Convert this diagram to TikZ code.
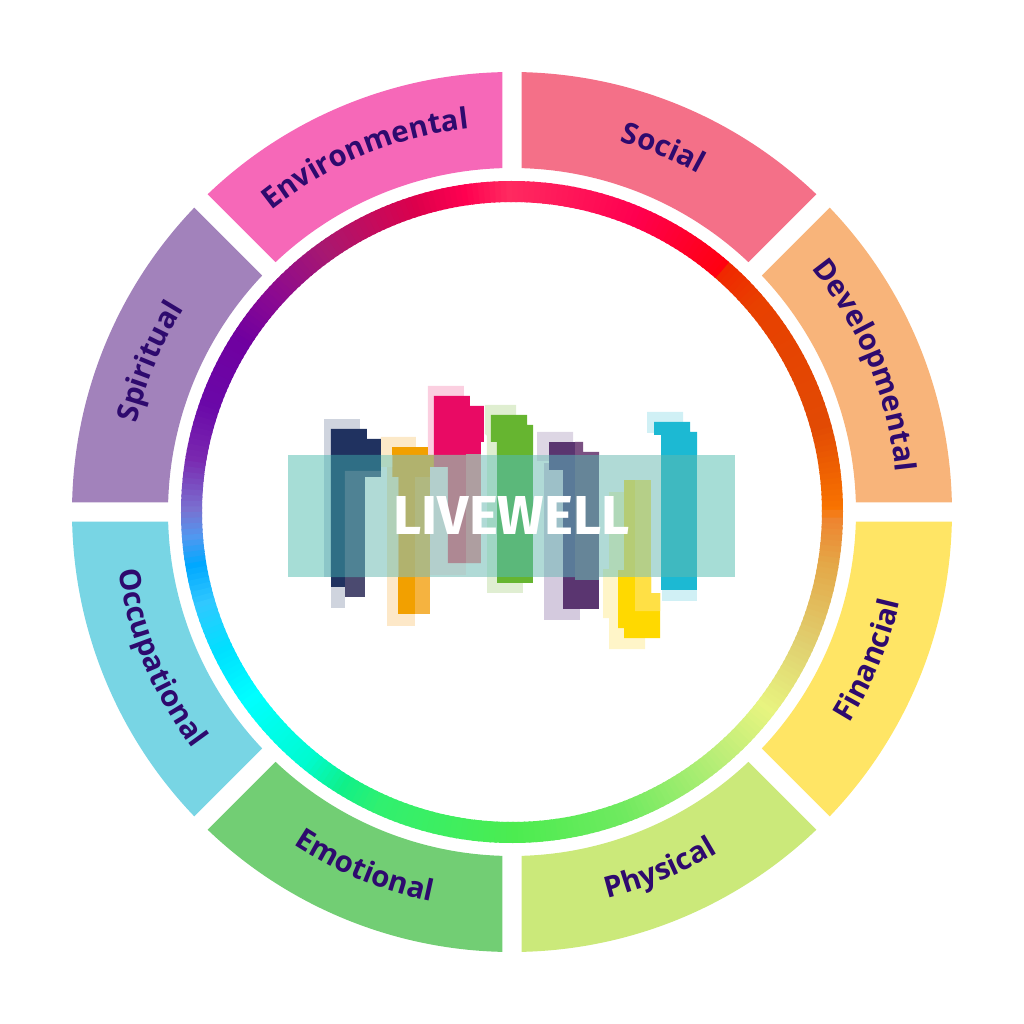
\documentclass[tikz,border=0pt]{standalone}
\usepackage{fontspec}
\usetikzlibrary{decorations.text}
\newfontfamily\wheelfont[Ligatures=TeX]{Open Sans}
\newfontfamily\logofont{Fira Sans}

\definecolor{labelink}{HTML}{2E0A6E}
\definecolor{social}{HTML}{F47088}
\definecolor{developmental}{HTML}{F8B47A}
\definecolor{financial}{HTML}{FFE565}
\definecolor{physical}{HTML}{CBE97A}
\definecolor{emotional}{HTML}{72CE74}
\definecolor{occupational}{HTML}{78D5E4}
\definecolor{spiritual}{HTML}{A282BB}
\definecolor{environmental}{HTML}{F668B8}

% one block of the logo: colour, then its path
\newcommand{\logopart}[2]{\definecolor{partc}{HTML}{#1}\fill[partc] #2;}

\begin{document}
\begin{tikzpicture}[x=0.01cm,y=0.01cm,
	wheellabel/.style={decorate,decoration={text along path,text align=center,
		text={|\wheelfont\bfseries\fontsize{8.35pt}{10pt}\selectfont\color{labelink}|#1}}}]
	\useasboundingbox (-512,-512) rectangle (512,512);

	% outer blocks
	\foreach \c/\col in {67.5/social,22.5/developmental,-22.5/financial,-67.5/physical,
			-112.5/emotional,-157.5/occupational,157.5/spiritual,112.5/environmental}
		\fill[\col] (\c-21.26:440) arc (\c-21.26:\c+21.26:440) -- (\c+20.91:344) arc (\c+20.91:\c-20.91:344) -- cycle;

	% labels, the upper four run clockwise, the lower four the other way
	\path[wheellabel=Social] (107.5:386) arc (107.5:27.5:386);
	\path[wheellabel=Developmental] (62.5:386) arc (62.5:-17.5:386);
	\path[wheellabel=Spiritual] (197.5:386) arc (197.5:117.5:386);
	\path[wheellabel=Environmental] (152.5:386) arc (152.5:72.5:386);
	\path[wheellabel=Financial] (-62.5:398) arc (-62.5:17.5:398);
	\path[wheellabel=Physical] (-107.5:398) arc (-107.5:-27.5:398);
	\path[wheellabel=Emotional] (-152.5:398) arc (-152.5:-72.5:398);
	\path[wheellabel=Occupational] (162.5:398) arc (162.5:242.5:398);

	% colour ring
	\foreach \a/\b/\ca/\cb in {0/15/F97400/E24A04,15/40/E24A04/E84000,40/48/E84000/F02800,48/49/F02800/FF0010,
			49/67/FF0010/FF0050,67/90/FF0050/FF2A60,90/98/FF2A60/FF0050,98/107/FF0050/DC004C,
			107/125/DC004C/A81870,125/137/A81870/8C0A90,137/147/8C0A90/7000A0,147/160/7000A0/6A08A8,
			160/170/6A08A8/7A28B0,170/179/7A28B0/7A70D0,179/184/7A70D0/5098F0,184/189/5098F0/00A8FF,
			189/196/00A8FF/30C8FF,196/205/30C8FF/00E0FF,205/215/00E0FF/00FFFF,215/230/00FFFF/00FBD0,
			230/238/00FBD0/10F088,238/245/10F088/30F070,245/270/30F070/4CEC50,270/290/4CEC50/70EA60,
			290/310/70EA60/BCEE78,310/322/BCEE78/E8F480,322/335/E8F480/E0D070,335/350/E0D070/E4A848,
			350/358/E4A848/EE8530,358/360/EE8530/F97400}{
		\definecolor{ringa}{HTML}{\ca}
		\definecolor{ringb}{HTML}{\cb}
		\pgfmathtruncatemacro{\e}{\b-1}
		\foreach \t in {\a,...,\e}{
			\pgfmathsetmacro{\p}{100*(\b-\t)/(\b-\a)}
			\draw[line width=0.21cm,ringa!\p!ringb] (\t:320.5) arc (\t:\t+1.4:320.5);
		}
	}

	% logo, in picture pixels with y going down
	\begin{scope}[x=0.01cm,y=-0.01cm,shift={(-512,-512)}]
		% pale shadows and solid tops and feet
		\logopart{CFD4DE}{(324,419) -| (360,455) -| cycle}
		\logopart{CFD4DE}{(331,587) rectangle (345,608)}
		\logopart{FCE9C8}{(381,437) -- (416,437) -- (416,447) -- (392,447) -- (392,455) -- (381,455) -- cycle}
		\logopart{FDE8C8}{(387,577) rectangle (415,626)}
		\logopart{FBCFE0}{(428,386) -- (464,386) -- (464,396) -- (434,396) -- (434,455) -- (428,455) -- cycle}
		\logopart{DFEED0}{(485,405) -- (516,405) -- (516,415) -- (491,415) -- (491,442) -- (497,442) -- (497,455) -- (487,455) -- (487,436) -- (485,434) -- cycle}
		\logopart{E0EED2}{(487,577) rectangle (523,593)}
		\logopart{DDD6E4}{(537,432) -- (573,432) -- (573,442) -- (549,442) -- (549,455) -- (537,455) -- cycle}
		\logopart{D4CADE}{(544,577) rectangle (580,620)}
		\logopart{FFF5C8}{(603,569) -- (618,569) -- (618,628) -- (624,628) -- (624,638) -- (645,638) -- (645,649) -- (609,649) -- (609,618) -- (603,618) -- cycle}
		\logopart{D0F0F5}{(647,412) -- (683,412) -- (683,422) -- (654,422) -- (654,433) -- (647,433) -- cycle}
		\logopart{D0F0F5}{(662,590) rectangle (697,601)}

		\logopart{203260}{(331,429) -- (367,429) -- (367,439) -- (381,439) -- (381,455) -- (331,455) -- cycle}
		\logopart{203260}{(331,577) rectangle (345,587)}
		\logopart{4B4A70}{(345,577) rectangle (365,597)}
		\logopart{F2A000}{(392,447) rectangle (428,455)}
		\logopart{F2A000}{(398.3,577) rectangle (415.3,614)}
		\logopart{F5B340}{(415.3,577) rectangle (430,614)}
		\logopart{E90A64}{(434,396) -- (470,396) -- (470,406) -- (484,406) -- (484,442) -- (481,442) -- (481,455) -- (434,455) -- cycle}
		\logopart{66B530}{(491,415) -- (527,415) -- (527,425) -- (533,425) -- (533,455) -- (497,455) -- (497,442) -- (491,442) -- cycle}
		\logopart{66B530}{(497,577) rectangle (533,583)}
		\logopart{5A3570}{(549,442) rectangle (575,455)}
		\logopart{7A5082}{(575,442) -- (583,442) -- (583,452) -- (599,452) -- (599,455) -- (575,455) -- cycle}
		\logopart{5A3570}{(563,577) rectangle (599,609)}
		\logopart{FFD900}{(618,577) -- (651,577) -- (651,593) -- (660,593) -- (660,638) -- (624,638) -- (624,628) -- (618,628) -- cycle}
		\logopart{FFE045}{(635,577) -- (651,577) -- (651,593) -- (660,593) -- (660,611) -- (635,611) -- cycle}
		\logopart{1CB9D3}{(654,422) -- (690,422) -- (690,432) -- (697,432) -- (697,455) -- (661,455) -- (661,435) -- (654,435) -- cycle}
		\logopart{1CB9D3}{(661,577) rectangle (697,590)}

		% the band and what shows through it
		\logopart{A6DDD6}{(288,455) rectangle (735,577)}
		\logopart{B0DAD6}{(365,477) rectangle (661,577)}
		\logopart{B0DAD6}{(381,455) rectangle (661,477)}
		\logopart{8CC6C8}{(324,455) rectangle (331,577)}
		\logopart{2F6E85}{(331,455) -- (381,455) -- (381,471) -- (345,471) -- (345,577) -- (331,577) -- cycle}
		\logopart{4F8294}{(345,471) -- (381,471) -- (381,477) -- (365,477) -- (365,577) -- (345,577) -- cycle}
		\logopart{B0D6C0}{(381,455) rectangle (392,467)}
		\logopart{B0D0B8}{(387,467) rectangle (398.3,577)}
		\logopart{B1B26E}{(392.3,455) -- (434,455) -- (434,467) -- (430,467) -- (430,477) -- (415.3,477) -- (415.3,577) -- (398.3,577) -- (398.3,477) -- (392.3,477) -- cycle}
		\logopart{B0B880}{(415.3,477) rectangle (430,577)}
		\logopart{B3CFCC}{(430,467) rectangle (466,575)}
		\logopart{AE8893}{(434,455) -- (481,455) -- (481,563) -- (448,563) -- (448,467) -- (434,467) -- cycle}
		\logopart{AE9EA0}{(466,454) rectangle (481,563)}
		\logopart{A0D6C4}{(487,455) rectangle (497,577)}
		\logopart{5BB87A}{(497,455) rectangle (533,577)}
		\logopart{A4C9CC}{(537,455) rectangle (549,461)}
		\logopart{9DC0C8}{(544,463) rectangle (563,577)}
		\logopart{5A7A98}{(549,455) -- (575,455) -- (575,577) -- (563,577) -- (563,470) -- (549,470) -- cycle}
		\logopart{668598}{(575,455) rectangle (599,580)}
		\logopart{B0D8B8}{(609,492) rectangle (624,577)}
		\logopart{B0D8B8}{(603,569) rectangle (618,577)}
		\logopart{B5CC75}{(624,480) rectangle (635,577)}
		\logopart{B5CC75}{(618,570) rectangle (624,577)}
		\logopart{B5CF88}{(635,480) rectangle (651,577)}
		\logopart{3FB9C0}{(661,455) rectangle (697,577)}

		\node[white,inner sep=0pt,font=\logofont\bfseries\fontsize{15.6pt}{15.6pt}\selectfont] (livewell) at (511.5,515.5) {LIVEWELL};
	\end{scope}
\end{tikzpicture}
\end{document}
